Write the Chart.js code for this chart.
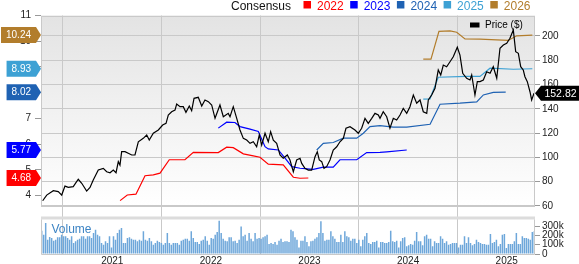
<!DOCTYPE html>
<html>
<head>
<meta charset="utf-8">
<title>Price and Consensus</title>
<script src="https://cdn.jsdelivr.net/npm/chart.js@4.4.1/dist/chart.umd.min.js"></script>
<style>
  html, body { margin: 0; padding: 0; background: #fff; }
  #priceChart { display: block; }
</style>
</head>
<body>
<canvas id="priceChart" width="579" height="264"></canvas>
<script>
// tick labels
const years = [2021, 2022, 2023, 2024, 2025];
const priceTicks = [60, 80, 100, 120, 140, 160, 180, 200];
const epsTicks = [4, 5, 6, 7, 8, 9, 10, 11];
const volumeTicks = [0, 100, 200, 300];

// price line (decimal year, $)
const priceDates = [2020.294, 2020.335, 2020.402, 2020.452, 2020.487, 2020.52, 2020.554, 2020.604, 2020.655, 2020.69,
  2020.74, 2020.774, 2020.807, 2020.858, 2020.909, 2020.943, 2020.977, 2021.01, 2021.038, 2021.061,
  2021.078, 2021.095, 2021.129, 2021.162, 2021.197, 2021.23, 2021.264, 2021.314, 2021.349, 2021.375,
  2021.416, 2021.467, 2021.511, 2021.545, 2021.568, 2021.602, 2021.636, 2021.653, 2021.687, 2021.72,
  2021.747, 2021.781, 2021.805, 2021.829, 2021.872, 2021.907, 2021.94, 2021.974, 2022.008, 2022.042,
  2022.092, 2022.126, 2022.176, 2022.194, 2022.227, 2022.262, 2022.295, 2022.329, 2022.363, 2022.397,
  2022.43, 2022.464, 2022.491, 2022.515, 2022.549, 2022.582, 2022.606, 2022.633, 2022.667, 2022.701,
  2022.734, 2022.775, 2022.802, 2022.836, 2022.87, 2022.904, 2022.921, 2022.954, 2022.988, 2023.022,
  2023.056, 2023.079, 2023.099, 2023.124, 2023.147, 2023.174, 2023.208, 2023.241, 2023.276, 2023.309,
  2023.343, 2023.37, 2023.411, 2023.461, 2023.495, 2023.529, 2023.563, 2023.596, 2023.631, 2023.664,
  2023.698, 2023.715, 2023.748, 2023.783, 2023.816, 2023.85, 2023.884, 2023.918, 2023.951, 2023.986,
  2024.019, 2024.053, 2024.087, 2024.121, 2024.154, 2024.189, 2024.205, 2024.239, 2024.273, 2024.306,
  2024.331, 2024.357, 2024.391, 2024.425, 2024.458, 2024.499, 2024.526, 2024.554, 2024.594, 2024.628,
  2024.645, 2024.678, 2024.702, 2024.729, 2024.763, 2024.797, 2024.831, 2024.864, 2024.899, 2024.932,
  2024.966, 2025.0, 2025.033, 2025.067, 2025.091, 2025.118, 2025.142, 2025.168, 2025.185, 2025.209,
  2025.236, 2025.253, 2025.277];
const price = [64.3, 69, 72.6, 71.8, 69, 76.4, 75.3, 75.9, 82, 78.7,
  72.3, 75.3, 81.4, 89.6, 91, 88.2, 87.4, 89.6, 87.4, 96.5,
  93.7, 104.7, 104.7, 103.4, 102, 102, 112.9, 115.7, 118.5, 114.3,
  119.9, 122.6, 126.7, 128.1, 134.9, 137.6, 139, 144, 141.8, 141.8,
  137.1, 142.3, 138.5, 148.7, 149.5, 142.3, 147.3, 145.9, 143.2, 132.2,
  143.2, 133.5, 136.3, 133.5, 141.8, 132.2, 122.6, 115.7, 114.3, 111.6,
  112.9, 108.8, 118.5, 110.2, 119.9, 112.9, 121.2, 114.3, 111.6, 102,
  99.3, 102, 97.9, 88.2, 97.9, 99.3, 95.1, 91, 89.6, 89.6,
  100.6, 104.7, 97.9, 96.5, 91, 92.4, 97.9, 106.1, 108.8, 112.9,
  115.7, 124, 125.3, 122.6, 119.9, 124, 132.2, 128.1, 132.2, 136.3,
  134.9, 132.2, 137.6, 133.5, 124, 132.2, 130.8, 134.9, 140.4, 136.3,
  141.8, 151.4, 144.6, 147.3, 137.6, 136.3, 147.3, 151.4, 156.9, 172,
  167.9, 176.1, 174.7, 178.8, 182.9, 190.7, 184.3, 169.3, 165.2, 163.8,
  167.9, 151.4, 162.4, 162.4, 163.8, 170.6, 169.3, 174.7, 165.2, 189.9,
  192.6, 194, 198.1, 205, 187.1, 185.7, 174.7, 172, 166.5, 162.4,
  154.1, 147.3, 152.82];

// consensus EPS estimates per fiscal year
const est2022Dates = [2021.079, 2021.152, 2021.24, 2021.332, 2021.416, 2021.484, 2021.578, 2021.737, 2021.822, 2022.075,
  2022.16, 2022.227, 2022.329, 2022.43, 2022.498, 2022.582, 2022.734, 2022.836, 2022.904, 2022.988];
const est2022 = [3.80, 4.02, 4.05, 4.77, 4.80, 4.87, 5.39, 5.39, 5.68, 5.67,
  5.88, 5.86, 5.62, 5.54, 5.49, 5.22, 5.19, 4.71, 4.67, 4.68];

const est2023Dates = [2022.075, 2022.16, 2022.244, 2022.295, 2022.397, 2022.481, 2022.549, 2022.582, 2022.684, 2022.752,
  2022.82, 2022.904, 2023.039, 2023.14, 2023.241, 2023.309, 2023.479, 2023.58, 2023.715, 2023.783, 2023.986];
const est2023 = [6.62, 6.85, 6.84, 6.68, 6.58, 6.49, 5.90, 5.81, 5.77, 5.45,
  5.12, 5.06, 5.02, 5.10, 5.10, 5.39, 5.39, 5.67, 5.68, 5.70, 5.77];

const est2024Dates = [2023.073, 2023.14, 2023.241, 2023.343, 2023.479, 2023.546, 2023.614, 2023.715, 2023.85, 2023.986,
  2024.223, 2024.324, 2024.526, 2024.696, 2024.763, 2024.864, 2024.99];
const est2024 = [5.77, 6.03, 6.06, 6.23, 6.23, 6.42, 6.68, 6.72, 6.66, 6.66,
  6.77, 7.55, 7.59, 7.64, 7.91, 8.01, 8.02];

const est2025Dates = [2024.154, 2024.222, 2024.306, 2024.594, 2024.729, 2024.831, 2025.067, 2025.26];
const est2025 = [7.75, 7.76, 8.60, 8.63, 8.63, 8.95, 8.91, 8.93];

const est2026Dates = [2024.154, 2024.232, 2024.313, 2024.425, 2024.493, 2024.577, 2024.729, 2024.899, 2025.016, 2025.101, 2025.26];
const est2026 = [9.30, 9.30, 10.38, 10.40, 10.35, 10.09, 10.08, 10.05, 10.03, 10.21, 10.24];

// weekly volume, thousands of shares
const volumeFirst = 2020.284;
const volumeLast = 2025.28;
const volumeK = [250, 207, 332, 154, 182, 171, 143, 154, 179, 179,
  207, 189, 189, 171, 154, 189, 118, 136, 154, 164,
  189, 189, 164, 189, 189, 171, 225, 261, 207, 189,
  118, 100, 136, 118, 189, 71, 189, 154, 225, 261,
  279, 118, 118, 171, 179, 164, 154, 154, 136, 154,
  143, 243, 154, 143, 171, 136, 100, 118, 143, 129,
  118, 100, 118, 225, 118, 100, 118, 118, 118, 100,
  143, 154, 164, 164, 143, 243, 171, 129, 129, 107,
  143, 154, 189, 143, 100, 171, 164, 207, 236, 357,
  225, 164, 143, 136, 179, 179, 136, 143, 118, 154,
  296, 189, 207, 143, 225, 164, 136, 225, 164, 171,
  164, 179, 189, 207, 107, 118, 107, 129, 100, 143,
  164, 129, 136, 136,
  129, 261, 243, 179, 154, 71, 143, 143, 189, 129,
  82, 136, 143, 164, 179, 225, 350, 225, 143, 154,
  154, 243, 189, 164, 129, 129, 207, 129, 243, 189,
  179, 143, 164, 164, 118, 154, 82, 154, 189, 225,
  118, 107, 129, 129, 143, 71, 129, 129, 118, 118,
  129, 250, 136, 129, 143, 71, 136, 171, 179, 82,
  93, 107, 100, 143, 236, 136, 136, 93, 189, 207,
  164, 164, 82, 136, 118, 118, 189, 164, 118, 136,
  100, 107, 118, 118, 118, 71, 100, 100, 189, 118,
  179, 118, 93, 107, 154, 129, 118, 107, 107, 100,
  100, 214, 118, 129, 154, 82, 107, 207, 214, 64,
  107, 107, 107, 136, 225, 107, 107, 189, 171, 171,
  164, 154, 236, 243];

const consensus = [
  { label: "2022", dates: est2022Dates, values: est2022, color: "#ff0000" },
  { label: "2023", dates: est2023Dates, values: est2023, color: "#0000ff" },
  { label: "2024", dates: est2024Dates, values: est2024, color: "#1f62b3" },
  { label: "2025", dates: est2025Dates, values: est2025, color: "#3da1d4" },
  { label: "2026", dates: est2026Dates, values: est2026, color: "#b27d2c" },
];

const FONT = "'Liberation Sans', Arial, Helvetica, sans-serif";
const GRID = "#c9c9c9";
const RIGHT_AXIS_WIDTH = 44;

function toPoints(xs, ys) {
  return xs.map((x, i) => ({ x: x, y: ys[i] }));
}

const volumeStep = (volumeLast - volumeFirst) / (volumeK.length - 1);
const volumePoints = volumeK.map((v, i) => ({ x: volumeFirst + i * volumeStep, y: v }));

// panel backgrounds, separators, legends and value tags
const decorations = {
  id: "decorations",
  afterLayout(chart) {
    // the volume axis shares the price axis' strip; widen its label clip box
    const s = chart.scales.yV;
    s.right = s.left + RIGHT_AXIS_WIDTH;
    s.width = RIGHT_AXIS_WIDTH;
  },
  beforeDraw(chart) {
    const { ctx, chartArea: a, scales } = chart;
    const mainBottom = scales.yP.getPixelForValue(60);
    ctx.save();
    const grad = ctx.createLinearGradient(0, a.top, 0, mainBottom);
    grad.addColorStop(0, "#e3e3e3");
    grad.addColorStop(1, "#ffffff");
    ctx.fillStyle = grad;
    ctx.fillRect(a.left, a.top, a.right - a.left, mainBottom - a.top);
    ctx.restore();
  },
  afterDatasetsDraw(chart) {
    const { ctx, chartArea: a, scales } = chart;
    const mainBottom = Math.round(scales.yP.getPixelForValue(60)) + 0.5;
    const volTop = scales.yV.getPixelForValue(370);
    ctx.save();
    ctx.strokeStyle = GRID;
    ctx.lineWidth = 1;
    ctx.strokeRect(Math.round(a.left) + 0.5, Math.round(a.top) + 0.5,
      Math.round(a.right - a.left) - 1, mainBottom - Math.round(a.top) - 0.5);
    // separator band above the volume panel
    ctx.fillStyle = "#dcdcdc";
    ctx.fillRect(a.left, volTop - 3, a.right - a.left, 3);
    ctx.beginPath();
    ctx.moveTo(Math.round(a.left) + 0.5, volTop);
    ctx.lineTo(Math.round(a.left) + 0.5, Math.round(a.bottom) + 0.5);
    ctx.lineTo(Math.round(a.right) - 0.5, Math.round(a.bottom) + 0.5);
    ctx.lineTo(Math.round(a.right) - 0.5, volTop);
    ctx.stroke();

    ctx.font = "12px " + FONT;
    ctx.fillStyle = "#3d84c4";
    ctx.textBaseline = "alphabetic";
    ctx.textAlign = "left";
    ctx.fillText("Volume", a.left + 10.5, volTop + 13.5);
    ctx.restore();
  },
  afterDraw(chart) {
    const { ctx, chartArea: a, scales } = chart;
    ctx.save();

    // top legend
    ctx.font = "12px " + FONT;
    ctx.textBaseline = "alphabetic";
    ctx.textAlign = "left";
    ctx.fillStyle = "#111";
    ctx.fillText("Consensus", 231, 9.5);
    consensus.forEach((s, i) => {
      const x = 303.5 + i * 46.7;
      ctx.fillStyle = s.color;
      ctx.fillRect(x, 1, 7.5, 7.5);
      ctx.fillText(s.label, x + 13.5, 9.5);
    });

    // price legend inside the plot
    ctx.fillStyle = "#000";
    ctx.fillRect(470, 22.5, 9.5, 5);
    ctx.font = "10px " + FONT;
    ctx.textBaseline = "middle";
    ctx.fillText("Price ($)", 485, 25.5);

    // last consensus values on the left axis
    ctx.font = "10px " + FONT;
    ctx.textAlign = "center";
    consensus.forEach((s) => {
      const v = s.values[s.values.length - 1];
      const y = scales.yC.getPixelForValue(v);
      const text = v.toFixed(2);
      const right = a.left - 5;
      const left = Math.max(0, right - ctx.measureText(text).width - 10);
      ctx.fillStyle = s.color;
      ctx.beginPath();
      ctx.moveTo(left, y - 8);
      ctx.lineTo(right, y - 8);
      ctx.lineTo(a.left, y);
      ctx.lineTo(right, y + 8);
      ctx.lineTo(left, y + 8);
      ctx.closePath();
      ctx.fill();
      ctx.fillStyle = "#fff";
      ctx.fillText(text, (left + right) / 2, y + 0.5);
    });

    // last price on the right axis
    const lastPrice = price[price.length - 1];
    const py = scales.yP.getPixelForValue(lastPrice);
    ctx.fillStyle = "#000";
    ctx.beginPath();
    ctx.moveTo(a.right, py);
    ctx.lineTo(a.right + 6, py - 7.5);
    ctx.lineTo(chart.width, py - 7.5);
    ctx.lineTo(chart.width, py + 7.5);
    ctx.lineTo(a.right + 6, py + 7.5);
    ctx.closePath();
    ctx.fill();
    ctx.font = "10.5px " + FONT;
    ctx.fillStyle = "#fff";
    ctx.fillText(lastPrice.toFixed(2), (a.right + 6 + chart.width) / 2 + 0.5, py + 0.5);
    ctx.restore();
  },
};

const tickFont = { family: FONT, size: 10 };

const datasets = [
  {
    type: "line",
    label: "Price ($)",
    data: toPoints(priceDates, price),
    yAxisID: "yP",
    borderColor: "#000",
    borderWidth: 1.2,
    pointRadius: 0,
    order: 0,
  },
  ...consensus.map((s) => ({
    type: "line",
    label: s.label,
    data: toPoints(s.dates, s.values),
    yAxisID: "yC",
    borderColor: s.color,
    borderWidth: 1.2,
    pointRadius: 0,
    order: 1,
  })),
  {
    type: "bar",
    label: "Volume",
    data: volumePoints,
    yAxisID: "yV",
    backgroundColor: "#6ea7da",
    barPercentage: 0.75,
    categoryPercentage: 1,
    order: 2,
  },
];

const chart = new Chart(document.getElementById("priceChart"), {
  type: "line",
  data: { datasets: datasets },
  plugins: [decorations],
  options: {
    responsive: false,
    devicePixelRatio: 1,
    animation: false,
    layout: { padding: { top: 15.5, left: 0, right: 0, bottom: 0 } },
    plugins: {
      legend: { display: false },
      tooltip: { enabled: false },
    },
    scales: {
      x: {
        type: "linear",
        position: "bottom",
        min: 2020.277,
        max: 2025.287,
        offset: false,
        afterBuildTicks: (scale) => { scale.ticks = years.map((v) => ({ value: v })); },
        afterFit: (scale) => { scale.height = 10; },
        ticks: { callback: (v) => String(v), color: "#222", font: tickFont, padding: 1, maxRotation: 0 },
        grid: { color: GRID, drawTicks: false },
        border: { display: false },
      },
      yC: {
        type: "linear",
        position: "left",
        min: 1.725,
        max: 11,
        afterBuildTicks: (scale) => { scale.ticks = epsTicks.map((v) => ({ value: v })); },
        afterFit: (scale) => { scale.width = 41; },
        ticks: { color: "#222", font: tickFont, padding: 4 },
        grid: { drawOnChartArea: false, tickLength: 6, tickColor: "#999" },
        border: { display: false },
      },
      yV: {
        type: "linear",
        position: "right",
        weight: 0,
        min: 0,
        max: 2556,
        afterBuildTicks: (scale) => { scale.ticks = volumeTicks.map((v) => ({ value: v })); },
        afterFit: (scale) => { scale.width = 0; },
        ticks: { callback: (v) => (v === 0 ? "0" : v + "k"), color: "#222", font: tickFont, padding: 2 },
        grid: { drawOnChartArea: false, tickLength: 5, tickColor: "#999" },
        border: { display: false },
      },
      yP: {
        type: "linear",
        position: "right",
        weight: 1,
        min: 20.47,
        max: 216.88,
        afterBuildTicks: (scale) => { scale.ticks = priceTicks.map((v) => ({ value: v })); },
        afterFit: (scale) => { scale.width = RIGHT_AXIS_WIDTH; },
        ticks: { color: "#222", font: tickFont, padding: 2 },
        grid: { color: GRID, tickLength: 5, tickColor: "#999" },
        border: { display: false },
      },
    },
  },
});
</script>
</body>
</html>
